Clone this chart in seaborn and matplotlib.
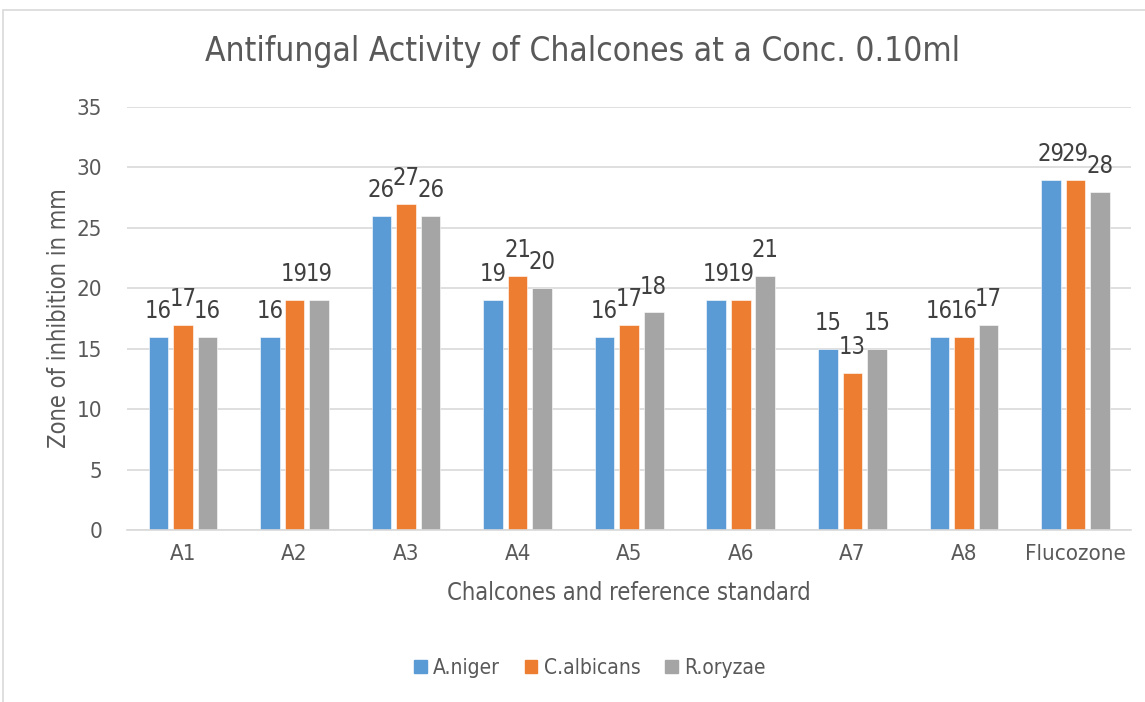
import matplotlib.pyplot as plt
import matplotlib.patches as mpatches
import seaborn as sns
import pandas as pd

categories = ["A1", "A2", "A3", "A4", "A5", "A6", "A7", "A8", "Flucozone"]
series = ["A.niger", "C.albicans", "R.oryzae"]
a_niger = [16, 16, 26, 19, 16, 19, 15, 16, 29]
c_albicans = [17, 19, 27, 21, 17, 19, 13, 16, 29]
r_oryzae = [16, 19, 26, 20, 18, 21, 15, 17, 28]
colors = ["#5B9BD5", "#ED7D31", "#A5A5A5"]

df = pd.DataFrame({
    "category": categories * 3,
    "organism": [s for s in series for _ in categories],
    "zone": a_niger + c_albicans + r_oryzae,
})

sns.set_theme(style="white")
plt.rcParams['font.family'] = ['DejaVu Sans']
plt.rcParams['font.stretch'] = 'condensed'
text_col = "#595959"

fig = plt.figure(figsize=(11.45, 7.02), dpi=100)
ax = fig.add_axes([0.111, 0.245, 0.877, 0.6026])

# outer chart frame
fig.patches.append(mpatches.Rectangle((3 / 1145, -0.05), 1.2, 1 - 10 / 702 + 0.05,
                                      transform=fig.transFigure, fill=False,
                                      edgecolor="#D9D9D9", linewidth=1.2, zorder=0))

sns.barplot(data=df, x="category", y="zone", hue="organism", palette=colors,
            width=0.66, gap=0.2, ax=ax, legend=False, saturation=1,
            edgecolor="white", linewidth=0.4)

for cont in ax.containers:
    ax.bar_label(cont, fmt="%d", padding=10, fontsize=17, color="#404040")

ax.set_ylim(0, 35)
ax.set_xlim(-0.5, 8.5)
ax.set_yticks(range(0, 36, 5))
ax.yaxis.grid(True, color="#D9D9D9", linewidth=1.2)
ax.set_axisbelow(True)
for s in ["top", "right", "left"]:
    ax.spines[s].set_visible(False)
ax.spines["bottom"].set_color("#D9D9D9")
ax.spines["bottom"].set_linewidth(1.2)
ax.tick_params(axis="both", length=0, labelsize=16, colors=text_col)
ax.tick_params(axis="x", pad=10)
ax.tick_params(axis="y", pad=18)

ax.set_xlabel("Chalcones and reference standard", fontsize=17, color=text_col, labelpad=12)
ax.set_ylabel("Zone of inhibition in mm", fontsize=17, color=text_col, labelpad=4)
fig.text(583 / 1145, 1 - 52 / 702, "Antifungal Activity of Chalcones at a Conc. 0.10ml",
         ha="center", va="center", fontsize=24, color=text_col)

handles = [mpatches.Patch(color=c, label=s) for c, s in zip(colors, series)]
fig.legend(handles=handles, loc="center", bbox_to_anchor=(590 / 1145, 1 - 668 / 702),
           ncol=3, frameon=False, fontsize=15, labelcolor=text_col,
           handlelength=0.6, handleheight=0.6, handletextpad=0.3, columnspacing=1.2)

fig.savefig("out.png", dpi=100)
